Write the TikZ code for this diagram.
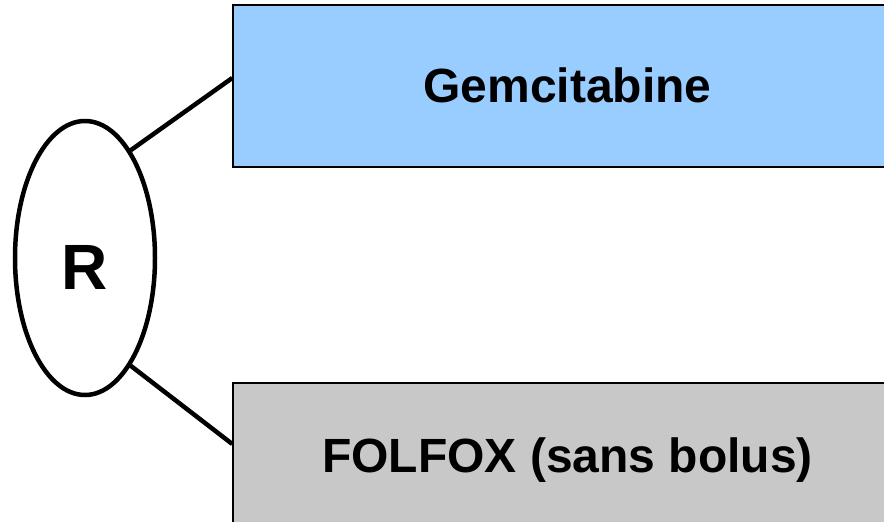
\documentclass[tikz,border=0pt]{standalone}
\usepackage{fontspec}
\setmainfont{Liberation Sans}
\usetikzlibrary{shapes.geometric,calc}
\definecolor{armblue}{HTML}{99CCFF}
\definecolor{armgray}{HTML}{C8C8C8}
\tikzset{
  armbox/.style={draw=black, line width=1.5bp, rectangle, inner sep=0pt,
    font=\fontsize{48bp}{56bp}\selectfont\bfseries, text height=34bp, text depth=0pt},
  randnode/.style={draw=black, line width=4.5bp, ellipse, inner sep=0pt,
    minimum width=140bp, minimum height=274bp,
    font=\fontsize{64bp}{70bp}\selectfont\bfseries, text height=63bp, text depth=0pt},
  link/.style={draw=black, line width=4.5bp}
}
\begin{document}
\begin{tikzpicture}[x=1bp,y=-1bp]
\useasboundingbox (0,0) rectangle (884,522);
\clip (0,0) rectangle (884,522);
\fill[white] (0,0) rectangle (884,522);
\node[armbox, fill=armblue, minimum width=669bp, minimum height=162bp] (gem) at (567.5,86) {Gemcitabine};
\node[armbox, fill=armgray, minimum width=669bp, minimum height=145bp] (folfox) at (567.5,455.5) {FOLFOX (sans bolus)};
\node[randnode] (R) at (85,258) {R};
\draw[link] (R.67) -- ([yshift=8bp]gem.west);
\draw[link] (R.-67) -- ([yshift=11.5bp]folfox.west);
\end{tikzpicture}
\end{document}
